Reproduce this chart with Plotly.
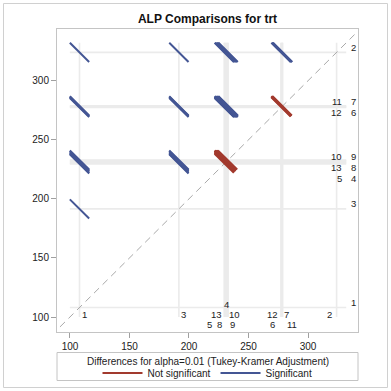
import plotly.graph_objects as go

# ---------------- data ----------------
title_text = "ALP Comparisons for trt"
levels = ["1", "2", "3", "4", "5", "6", "7", "8", "9", "10", "11", "12", "13"]
means = [108.0, 324.0, 191.5, 229.6, 230.1, 277.3, 278.3, 231.0, 232.4, 232.9, 278.7, 277.8, 231.5]
ci_halfwidth = 16.2          # half width of the Tukey-Kramer CI for a difference
x_ticks = [100, 150, 200, 250, 300]
y_ticks = [100, 150, 200, 250, 300]
x_range = [89.1, 342.0]
y_range = [87.3, 343.8]
legend_title = "Differences for alpha=0.01 (Tukey-Kramer Adjustment)"
legend_names = ["Not significant", "Significant"]

# ---------------- style / layout ----------------
FONT = "Liberation Sans, Arial, sans-serif"
RED = "#A23A2E"
BLUE = "#445694"
REF = "#ebebeb"
FRAME = "#c4c4c4"
W, H = 391, 391
ML, MR, MT, MB = 57, 33, 29, 59
PW, PH = W - ML - MR, H - MT - MB

# bottom label placement: level -> (row, horizontal shift in px from the level's line)
bottom_layout = {
    "1": (1, 5.5), "3": (1, 5.1), "2": (1, -6.6),
    "4": (0, 2.0), "13": (1, -9.9), "10": (1, 6.5),
    "5": (2, -15.7), "8": (2, -6.6), "9": (2, 5.2),
    "12": (1, -8.6), "7": (1, 4.5), "6": (2, -8.9), "11": (2, 8.9),
}
bottom_row_shift = {0: 28, 1: 17.5, 2: 8}

fig = go.Figure()

h = ci_halfwidth / 2.0
lo = min(means) - h
hi = max(means) + h

# reference lines at every mean
rx, ry = [], []
for m in means:
    rx += [lo, hi, None, m, m, None]
    ry += [m, m, None, lo, hi, None]
fig.add_trace(go.Scatter(x=rx, y=ry, mode="lines", line=dict(color=REF, width=1.6),
                         hoverinfo="skip", showlegend=False))

# diagonal y = x
d0 = min(x_range[0], y_range[0]) - 10
d1 = max(x_range[1], y_range[1]) + 10
fig.add_trace(go.Scatter(x=[d0, d1], y=[d0, d1], mode="lines",
                         line=dict(color="#a9a9a9", width=1, dash="7px,5px"),
                         hoverinfo="skip", showlegend=False))

# diffogram segments
seg = {True: ([], []), False: ([], [])}
n = len(means)
for i in range(n):
    for j in range(i + 1, n):
        a, b = sorted([means[i], means[j]])
        sig = (b - a) > ci_halfwidth
        xs, ys = seg[sig]
        xs += [a - h, a + h, None]
        ys += [b + h, b - h, None]
fig.add_trace(go.Scatter(x=seg[False][0], y=seg[False][1], mode="lines",
                         line=dict(color=RED, width=2), name=legend_names[0],
                         hoverinfo="skip"))
fig.add_trace(go.Scatter(x=seg[True][0], y=seg[True][1], mode="lines",
                         line=dict(color=BLUE, width=2), name=legend_names[1],
                         hoverinfo="skip"))

annotations = []
lab_font = dict(family=FONT, size=9.5, color="#222")

# right-side labels: cluster close means, stack in two columns
order = sorted(range(n), key=lambda k: -means[k])
clusters = []
for k in order:
    if clusters and abs(means[clusters[-1][-1]] - means[k]) < 3:
        clusters[-1].append(k)
    else:
        clusters.append([k])
for cl in clusters:
    cm = sum(means[k] for k in cl) / len(cl)
    for idx, k in enumerate(cl):
        row = idx // 2
        col = 2 if len(cl) == 1 else (1 if idx % 2 == 0 else 2)
        if col == 1:
            annotations.append(dict(x=1, y=cm, xref="paper", yref="y", text=levels[k],
                                    showarrow=False, xanchor="right", yanchor="middle",
                                    xshift=-14.5, yshift=5 - 11 * row, font=lab_font))
        else:
            annotations.append(dict(x=1, y=cm, xref="paper", yref="y", text=levels[k],
                                    showarrow=False, xanchor="left", yanchor="middle",
                                    xshift=-9, yshift=5 - 11 * row, font=lab_font))

# bottom labels
for k in range(n):
    row, xs = bottom_layout[levels[k]]
    annotations.append(dict(x=means[k], y=0, xref="x", yref="paper", text=levels[k],
                            showarrow=False, xanchor="center", yanchor="middle",
                            xshift=xs, yshift=bottom_row_shift[row], font=lab_font))

# legend title
annotations.append(dict(x=0.5, y=-(361.5 - (MT + PH)) / PH, xref="paper", yref="paper",
                        text=legend_title, showarrow=False, xanchor="center", yanchor="middle",
                        font=dict(family=FONT, size=10, color="#222")))

shapes = [
    # legend box
    dict(type="rect", xref="paper", yref="paper", x0=0, x1=1,
         y0=-(380.5 - (MT + PH)) / PH, y1=-(352.5 - (MT + PH)) / PH,
         line=dict(color=FRAME, width=1), fillcolor="rgba(0,0,0,0)"),
    # outer border
    dict(type="rect", xref="paper", yref="paper",
         x0=(3.5 - ML) / PW, x1=(387.5 - ML) / PW,
         y0=-(387.5 - (MT + PH)) / PH, y1=(MT + PH - 3.5) / PH,
         line=dict(color="#d0d0d0", width=1), fillcolor="rgba(0,0,0,0)"),
]

axis_common = dict(showgrid=False, zeroline=False, showline=True, mirror=True,
                   linecolor=FRAME, linewidth=1, ticks="outside", ticklen=5,
                   tickcolor="#a0a0a0", tickfont=dict(family=FONT, size=10, color="#222"))

fig.update_layout(
    width=W, height=H,
    margin=dict(l=ML, r=MR, t=MT, b=MB, autoexpand=False),
    paper_bgcolor="white", plot_bgcolor="white",
    title=dict(text="<b>" + title_text + "</b>", x=(ML + PW / 2) / W, xanchor="center",
               y=1 - 18.5 / H, yanchor="middle", yref="container",
               font=dict(family=FONT, size=12, color="#111")),
    xaxis=dict(range=x_range, tickvals=x_ticks, **axis_common),
    yaxis=dict(range=y_range, tickvals=y_ticks, **axis_common),
    showlegend=True,
    legend=dict(orientation="h", x=0.5, xanchor="center",
                y=-(373 - (MT + PH)) / PH, yanchor="middle",
                bgcolor="rgba(0,0,0,0)", borderwidth=0,
                font=dict(family=FONT, size=10, color="#222"),
                itemwidth=40, tracegroupgap=0),
    annotations=annotations,
    shapes=shapes,
)

fig.write_html("out.html", config={"displayModeBar": False},
               post_script="document.body.style.margin='0';")
